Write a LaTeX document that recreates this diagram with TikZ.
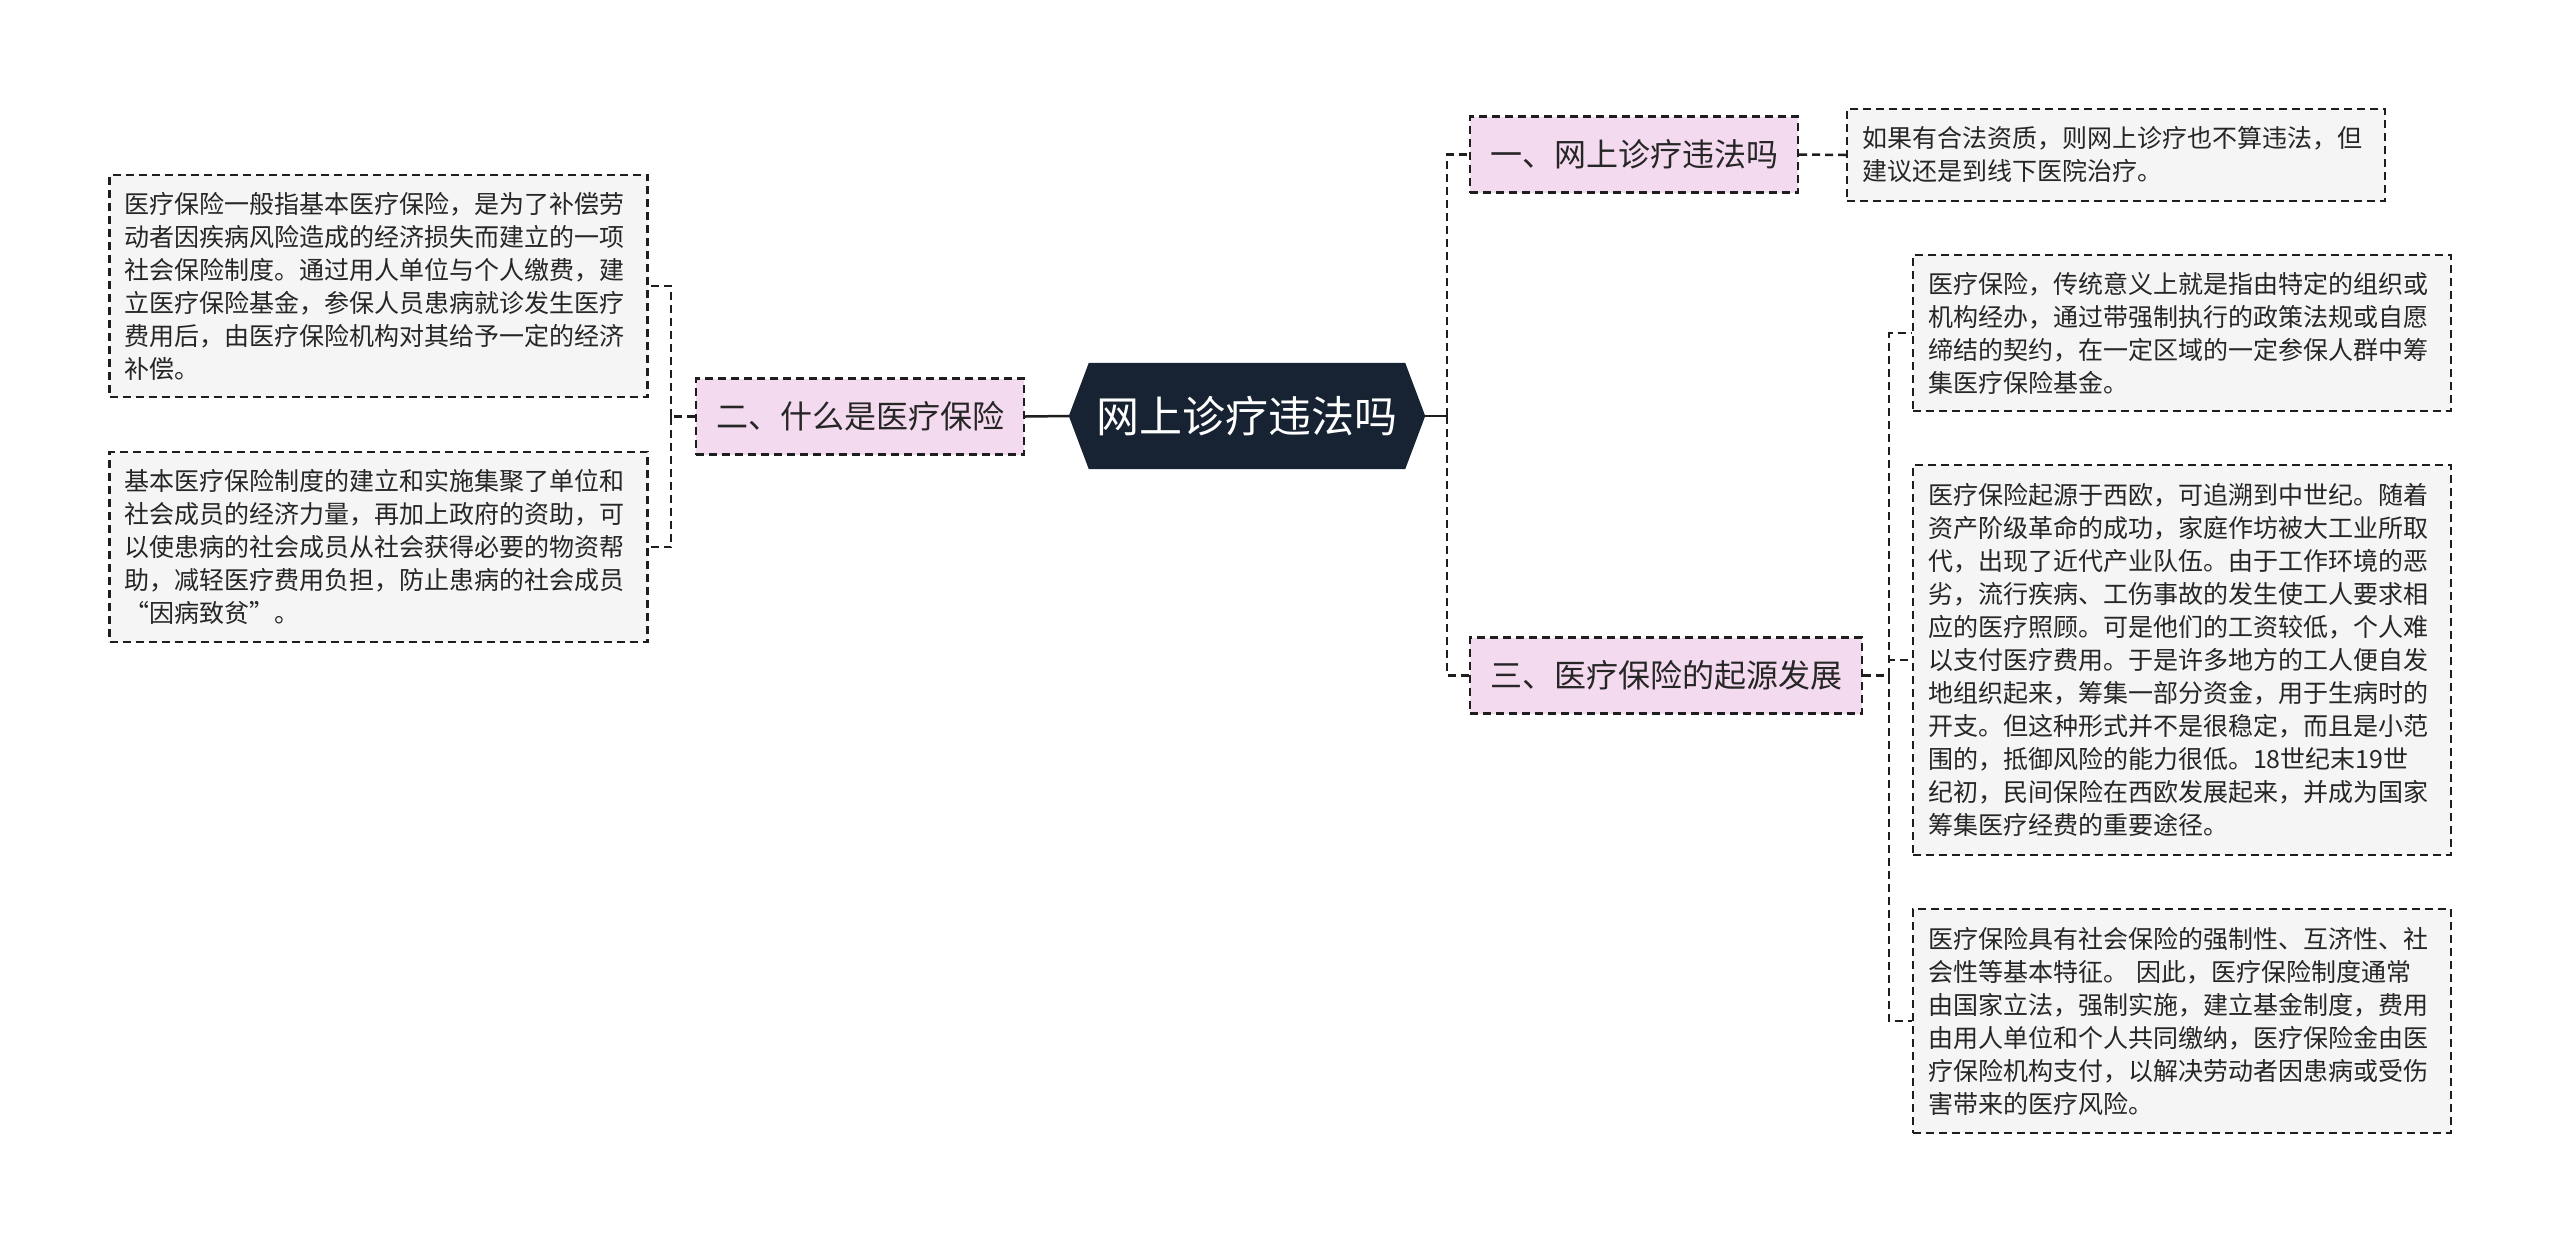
\documentclass[tikz,border=0pt]{standalone}
\usepackage{fontspec}
\newfontfamily\cjk{Noto Sans CJK SC}
\usetikzlibrary{backgrounds,calc}
\definecolor{rootfill}{HTML}{172232}
\definecolor{pinkfill}{HTML}{F4DAEE}
\definecolor{leaffill}{HTML}{F5F5F5}
\definecolor{ink}{HTML}{262626}
\definecolor{edgecol}{HTML}{1E1E1E}
\begin{document}
\begin{tikzpicture}[x=1pt,y=-1pt,
  rootnode/.style={minimum width=316pt, minimum height=106pt, inner sep=0pt, text=white, font=\cjk\fontsize{43}{50}\selectfont},
  branch/.style={draw=edgecol, line width=2.2pt, dash pattern=on 8pt off 5pt, fill=pinkfill, text=ink, minimum height=76pt, inner xsep=20pt, inner ysep=0pt, font=\cjk\fontsize{32}{38}\selectfont},
  leaf/.style={draw=edgecol, line width=2.2pt, dash pattern=on 8pt off 5pt, fill=leaffill, text=ink, text width=508pt, inner xsep=15pt, inner ysep=0pt, align=left, font=\cjk\fontsize{25}{33}\selectfont},
  conn/.style={draw=edgecol, line width=2.5pt, dash pattern=on 8pt off 5pt},
  solidconn/.style={draw=edgecol, line width=2.5pt}
]
\useasboundingbox (0,0) rectangle (2560,1243);

% root
\node[rootnode] (root) at (1247,416) {网上诊疗违法吗};
\coordinate (rootL) at ($(root.west)+(-20,0)$);
\coordinate (rootR) at ($(root.east)+(20,0)$);

% branches
\node[branch] (b1) at (1634,154.5) {一、网上诊疗违法吗};
\node[branch] (b2) at (860,416.5) {二、什么是医疗保险};
\node[branch] (b3) at (1666,675.5) {三、医疗保险的起源发展};

% leaves
\node[leaf, minimum height=92pt] (lt) at (2116,155) {如果有合法资质，则网上诊疗也不算违法，但\\建议还是到线下医院治疗。};

\node[leaf, minimum height=222pt] (l1) at (378.5,286) {医疗保险一般指基本医疗保险，是为了补偿劳\\动者因疾病风险造成的经济损失而建立的一项\\社会保险制度。通过用人单位与个人缴费，建\\立医疗保险基金，参保人员患病就诊发生医疗\\费用后，由医疗保险机构对其给予一定的经济\\补偿。};

\node[leaf, minimum height=190pt] (l2) at (378.5,547) {基本医疗保险制度的建立和实施集聚了单位和\\社会成员的经济力量，再加上政府的资助，可\\以使患病的社会成员从社会获得必要的物资帮\\助，减轻医疗费用负担，防止患病的社会成员\\“因病致贫”。};

\node[leaf, minimum height=156pt] (ra) at (2182,333) {医疗保险，传统意义上就是指由特定的组织或\\机构经办，通过带强制执行的政策法规或自愿\\缔结的契约，在一定区域的一定参保人群中筹\\集医疗保险基金。};

\node[leaf, minimum height=390pt] (rb) at (2182,660) {医疗保险起源于西欧，可追溯到中世纪。随着\\资产阶级革命的成功，家庭作坊被大工业所取\\代，出现了近代产业队伍。由于工作环境的恶\\劣，流行疾病、工伤事故的发生使工人要求相\\应的医疗照顾。可是他们的工资较低，个人难\\以支付医疗费用。于是许多地方的工人便自发\\地组织起来，筹集一部分资金，用于生病时的\\开支。但这种形式并不是很稳定，而且是小范\\围的，抵御风险的能力很低。18世纪末19世\\纪初，民间保险在西欧发展起来，并成为国家\\筹集医疗经费的重要途径。};

\node[leaf, minimum height=224pt] (rc) at (2182,1021) {医疗保险具有社会保险的强制性、互济性、社\\会性等基本特征。 因此，医疗保险制度通常\\由国家立法，强制实施，建立基金制度，费用\\由用人单位和个人共同缴纳，医疗保险金由医\\疗保险机构支付，以解决劳动者因患病或受伤\\害带来的医疗风险。};

% junctions
\coordinate (jL) at (671,416.5);
\coordinate (jR) at (1447,416);
\coordinate (jR3) at (1889,675.5);

% connectors
\draw[solidconn] (rootL) -- (b2.east);
\draw[conn] (b2.west) -- (jL);
\draw[conn] (jL) |- (l1.east);
\draw[conn] (jL) |- (l2.east);

\draw[solidconn] (rootR) -- (jR);
\draw[conn] (jR) |- (b1.west);
\draw[conn] (jR) |- (b3.west);
\draw[conn] (b1.east) -- (lt.west);

\draw[conn] (b3.east) -- (jR3);
\draw[conn] (jR3) |- (ra.west);
\draw[conn] (jR3) |- (rb.west);
\draw[conn] (jR3) |- (rc.west);

\begin{scope}[on background layer]
  \fill[white] (0,0) rectangle (2560,1243);
  \fill[rootfill] (rootL) -- (root.north west) -- (root.north east) -- (rootR) -- (root.south east) -- (root.south west) -- cycle;
\end{scope}
\end{tikzpicture}
\end{document}
